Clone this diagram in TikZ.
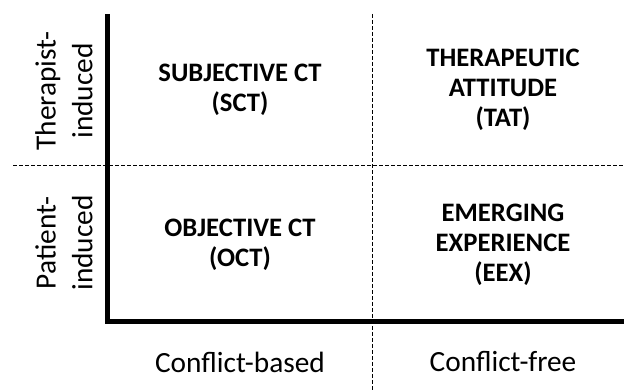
\documentclass[tikz,border=0pt]{standalone}
\usepackage{fontspec}
\setmainfont{Carlito}
\usetikzlibrary{positioning}

\begin{document}
\begin{tikzpicture}[x=0.75pt, y=0.75pt,
    axis/.style={line width=3.75pt},
    divider/.style={line width=0.75pt, dash pattern=on 3pt off 1.5pt},
    cell/.style={align=center, inner sep=0pt, font=\fontsize{20}{22.5}\selectfont\bfseries},
    axislabel/.style={align=center, inner sep=0pt, font=\fontsize{22}{27.5}\selectfont}]
  \useasboundingbox (0,0) rectangle (624,391);

  % Frame points
  \coordinate (top)        at (107,377);
  \coordinate (origin)     at (107,69);
  \coordinate (end)        at (624,69);
  \coordinate (mid left)   at (13,225);
  \coordinate (mid right)  at (624,225);
  \coordinate (mid top)    at (372,377);
  \coordinate (mid bottom) at (372,0);

  % Dividers
  \draw[divider] (mid left) -- (mid right);
  \draw[divider] (mid top) -- (mid bottom);

  % Axes
  \draw[axis] (top) -- (origin) -- (end);

  % Quadrants
  \node[cell] (sct) at (240,301) {SUBJECTIVE CT\\(SCT)};
  \node[cell] (tat) at (503,301) {THERAPEUTIC\\ATTITUDE\\(TAT)};
  \node[cell] (oct) at (240,146) {OBJECTIVE CT\\(OCT)};
  \node[cell] (eex) at (503,146) {EMERGING\\EXPERIENCE\\(EEX)};

  % Axis labels
  \node[axislabel, rotate=90] (therapist) at (64,300) {Therapist-\\induced};
  \node[axislabel, rotate=90] (patient)   at (64,148) {Patient-\\induced};
  \node[axislabel] (based) at (240,29) {Conflict-based};
  \node[axislabel] (free)  at (503,29) {Conflict-free};
\end{tikzpicture}
\end{document}
